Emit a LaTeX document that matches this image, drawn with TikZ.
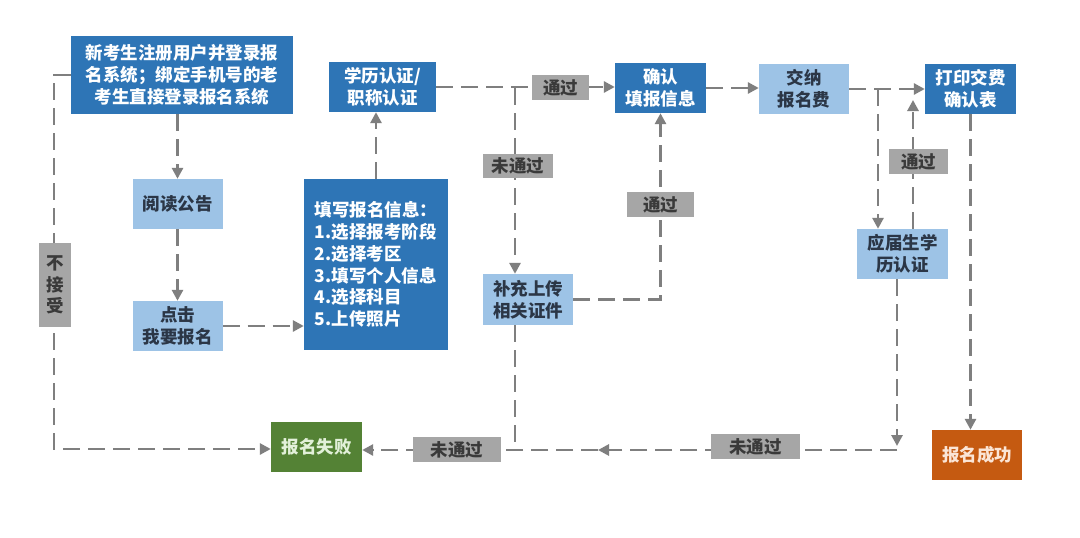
\documentclass[tikz,border=0pt]{standalone}
\usepackage{fontspec}
\setmainfont{Noto Sans CJK SC}
\usetikzlibrary{arrows.meta}
\definecolor{dblue}{HTML}{2E75B6}
\definecolor{lblue}{HTML}{9DC3E6}
\definecolor{lbtext}{HTML}{2B3646}
\definecolor{glab}{HTML}{A6A6A6}
\definecolor{gtext}{HTML}{3A3A3A}
\definecolor{lcol}{HTML}{7F7F7F}
\definecolor{fgreen}{HTML}{548235}
\definecolor{fgtext}{HTML}{E2F0D9}
\definecolor{sorange}{HTML}{C55A11}
\definecolor{sotext}{HTML}{FBE5D6}
\pgfdeclarelayer{bg}
\pgfdeclarelayer{lines}
\pgfsetlayers{bg,lines,main}
\begin{document}
\begin{tikzpicture}[x=1pt,y=-1pt,
  base/.style={rectangle, inner sep=0pt, align=center,
    font=\fontsize{17.5pt}{21.7pt}\selectfont\bfseries},
  dbox/.style={base, fill=dblue, text=white},
  lbox/.style={base, fill=lblue, text=lbtext},
  glabel/.style={base, fill=glab, text=gtext},
  conn/.style={draw=lcol, line width=2.8pt, dash pattern=on 17pt off 8pt},
  arr/.style={conn, -{Triangle[length=11pt,width=11pt]}},
  sz/.style 2 args={minimum width=#1pt, minimum height=#2pt}]
\useasboundingbox (0,0) rectangle (1080,538);
\begin{pgfonlayer}{bg}
\fill[white] (0,0) rectangle (1080,538);
\end{pgfonlayer}

% main boxes
\node[dbox, sz={222}{78}] (A) at (182,75) {新考生注册用户并登录报\\名系统；绑定手机号的老\\考生直接登录报名系统};
\node[dbox, sz={107}{50}] (E) at (382.5,87) {学历认证/\\职称认证};
\node[lbox, sz={90}{50}] (R) at (177.5,204) {阅读公告};
\node[lbox, sz={90}{50}] (C) at (177.5,326) {点击\\我要报名};
\node[dbox, sz={144}{171}, align=left] (F) at (376,264.5) {填写报名信息：\\1.选择报考阶段\\2.选择考区\\3.填写个人信息\\4.选择科目\\5.上传照片};
\node[dbox, sz={91}{50}] (K) at (660.5,88) {确认\\填报信息};
\node[lbox, sz={90}{51}] (B) at (528,299.5) {补充上传\\相关证件};
\node[lbox, sz={90}{50}] (J) at (804,89) {交纳\\报名费};
\node[dbox, sz={91}{50}] (P) at (970.5,89) {打印交费\\确认表};
\node[lbox, sz={91}{50}] (Y) at (902.5,254) {应届生学\\历认证};
\node[base, fill=sorange, text=sotext, sz={90}{50}] (S) at (977,455) {报名成功};
\node[base, fill=fgreen, text=fgtext, sz={91}{50}] (X) at (316.5,447) {报名失败};

% labels
\node[glabel, sz={32}{84}] (L0) at (55,285) {不\\接\\受};
\node[glabel, sz={57}{25}] (L1) at (560.5,87.5) {通过};
\node[glabel, sz={70}{24}] (L2) at (518,166) {未通过};
\node[glabel, sz={67}{25}] (L3) at (660.5,204.5) {通过};
\node[glabel, sz={59}{25}] (L4) at (918.5,161.5) {通过};
\node[glabel, sz={89}{25}] (L5) at (755.5,446.5) {未通过};
\node[glabel, sz={88}{25}] (L6) at (457,449.5) {未通过};

% helper coordinates
\coordinate (br1) at (515,88);
\coordinate (br2) at (878,89);
\coordinate (up4) at (913,100);
\coordinate (dn5) at (897,446);
\coordinate (bl) at (897,450);
\coordinate (mid) at (598,450);
\coordinate (bj) at (515,450);
\coordinate (lt) at (54,75);
\coordinate (lb) at (54,449);

\begin{pgfonlayer}{lines}
\draw[arr] (A.south -| R.north) -- (R.north);
\draw[arr] (R.south) -- (C.north);
\draw[arr] (C.east) -- (C.east -| F.west);
\draw[arr] (F.north) -- (F.north |- E.south);
\draw[arr] (E.east) -- (E.east -| K.west);
\draw[arr] (br1) -- (br1 |- B.north);
\draw[arr] (B.east) -| (K.south);
\draw[arr] (K.east) -- (K.east -| J.west);
\draw[arr] (J.east) -- (J.east -| P.west);
\draw[arr] (br2) -- (br2 |- Y.north);
\draw[arr] (up4 |- Y.north) -- (up4);
\draw[arr] (dn5 |- Y.south) -- (dn5);
\draw[arr] (bl) -- (mid);
\draw[arr] (mid) -- (mid -| X.east);
\draw[conn] (bj |- B.south) -- (bj);
\draw[arr] (P.south) -- (P.south |- S.north);
\draw[arr] (A.west |- lt) -- (lt) -- (lb) -- (lb -| X.west);
\end{pgfonlayer}
\end{tikzpicture}
\end{document}
